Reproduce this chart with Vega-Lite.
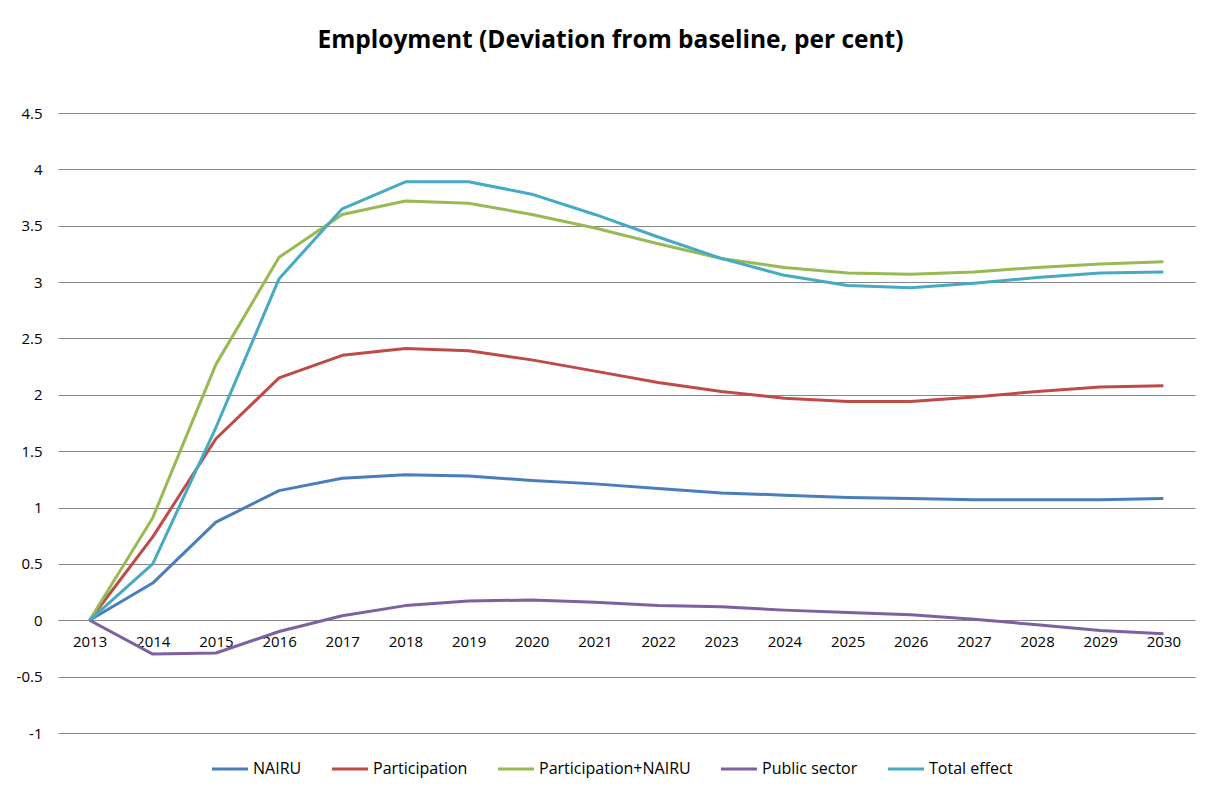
{
  "$schema": "https://vega.github.io/schema/vega-lite/v6.json",
  "autosize": {"type": "none"},
  "width": 1137,
  "height": 620,
  "padding": {"left": 58, "top": 113, "right": 14, "bottom": 60},
  "background": "white",
  "title": {
    "text": "Employment (Deviation from baseline, per cent)",
    "font": "Open Sans",
    "fontSize": 24.5,
    "fontWeight": "bold",
    "color": "#000000",
    "anchor": "middle",
    "dx": -16,
    "offset": 53
  },
  "config": {
    "view": {"stroke": null},
    "font": "Open Sans"
  },
  "data": {
    "values": [
      {"year": "2013", "series": "NAIRU", "value": 0},
      {"year": "2014", "series": "NAIRU", "value": 0.33},
      {"year": "2015", "series": "NAIRU", "value": 0.87},
      {"year": "2016", "series": "NAIRU", "value": 1.15},
      {"year": "2017", "series": "NAIRU", "value": 1.26},
      {"year": "2018", "series": "NAIRU", "value": 1.29},
      {"year": "2019", "series": "NAIRU", "value": 1.28},
      {"year": "2020", "series": "NAIRU", "value": 1.24},
      {"year": "2021", "series": "NAIRU", "value": 1.21},
      {"year": "2022", "series": "NAIRU", "value": 1.17},
      {"year": "2023", "series": "NAIRU", "value": 1.13},
      {"year": "2024", "series": "NAIRU", "value": 1.11},
      {"year": "2025", "series": "NAIRU", "value": 1.09},
      {"year": "2026", "series": "NAIRU", "value": 1.08},
      {"year": "2027", "series": "NAIRU", "value": 1.07},
      {"year": "2028", "series": "NAIRU", "value": 1.07},
      {"year": "2029", "series": "NAIRU", "value": 1.07},
      {"year": "2030", "series": "NAIRU", "value": 1.08},

      {"year": "2013", "series": "Participation", "value": 0},
      {"year": "2014", "series": "Participation", "value": 0.74},
      {"year": "2015", "series": "Participation", "value": 1.61},
      {"year": "2016", "series": "Participation", "value": 2.15},
      {"year": "2017", "series": "Participation", "value": 2.35},
      {"year": "2018", "series": "Participation", "value": 2.41},
      {"year": "2019", "series": "Participation", "value": 2.39},
      {"year": "2020", "series": "Participation", "value": 2.31},
      {"year": "2021", "series": "Participation", "value": 2.21},
      {"year": "2022", "series": "Participation", "value": 2.11},
      {"year": "2023", "series": "Participation", "value": 2.03},
      {"year": "2024", "series": "Participation", "value": 1.97},
      {"year": "2025", "series": "Participation", "value": 1.94},
      {"year": "2026", "series": "Participation", "value": 1.94},
      {"year": "2027", "series": "Participation", "value": 1.98},
      {"year": "2028", "series": "Participation", "value": 2.03},
      {"year": "2029", "series": "Participation", "value": 2.07},
      {"year": "2030", "series": "Participation", "value": 2.08},

      {"year": "2013", "series": "Participation+NAIRU", "value": 0},
      {"year": "2014", "series": "Participation+NAIRU", "value": 0.91},
      {"year": "2015", "series": "Participation+NAIRU", "value": 2.27},
      {"year": "2016", "series": "Participation+NAIRU", "value": 3.22},
      {"year": "2017", "series": "Participation+NAIRU", "value": 3.60},
      {"year": "2018", "series": "Participation+NAIRU", "value": 3.72},
      {"year": "2019", "series": "Participation+NAIRU", "value": 3.70},
      {"year": "2020", "series": "Participation+NAIRU", "value": 3.60},
      {"year": "2021", "series": "Participation+NAIRU", "value": 3.48},
      {"year": "2022", "series": "Participation+NAIRU", "value": 3.34},
      {"year": "2023", "series": "Participation+NAIRU", "value": 3.21},
      {"year": "2024", "series": "Participation+NAIRU", "value": 3.13},
      {"year": "2025", "series": "Participation+NAIRU", "value": 3.08},
      {"year": "2026", "series": "Participation+NAIRU", "value": 3.07},
      {"year": "2027", "series": "Participation+NAIRU", "value": 3.09},
      {"year": "2028", "series": "Participation+NAIRU", "value": 3.13},
      {"year": "2029", "series": "Participation+NAIRU", "value": 3.16},
      {"year": "2030", "series": "Participation+NAIRU", "value": 3.18},

      {"year": "2013", "series": "Public sector", "value": 0},
      {"year": "2014", "series": "Public sector", "value": -0.30},
      {"year": "2015", "series": "Public sector", "value": -0.29},
      {"year": "2016", "series": "Public sector", "value": -0.10},
      {"year": "2017", "series": "Public sector", "value": 0.04},
      {"year": "2018", "series": "Public sector", "value": 0.13},
      {"year": "2019", "series": "Public sector", "value": 0.17},
      {"year": "2020", "series": "Public sector", "value": 0.18},
      {"year": "2021", "series": "Public sector", "value": 0.16},
      {"year": "2022", "series": "Public sector", "value": 0.13},
      {"year": "2023", "series": "Public sector", "value": 0.12},
      {"year": "2024", "series": "Public sector", "value": 0.09},
      {"year": "2025", "series": "Public sector", "value": 0.07},
      {"year": "2026", "series": "Public sector", "value": 0.05},
      {"year": "2027", "series": "Public sector", "value": 0.01},
      {"year": "2028", "series": "Public sector", "value": -0.04},
      {"year": "2029", "series": "Public sector", "value": -0.09},
      {"year": "2030", "series": "Public sector", "value": -0.12},

      {"year": "2013", "series": "Total effect", "value": 0},
      {"year": "2014", "series": "Total effect", "value": 0.50},
      {"year": "2015", "series": "Total effect", "value": 1.71},
      {"year": "2016", "series": "Total effect", "value": 3.03},
      {"year": "2017", "series": "Total effect", "value": 3.65},
      {"year": "2018", "series": "Total effect", "value": 3.89},
      {"year": "2019", "series": "Total effect", "value": 3.89},
      {"year": "2020", "series": "Total effect", "value": 3.78},
      {"year": "2021", "series": "Total effect", "value": 3.60},
      {"year": "2022", "series": "Total effect", "value": 3.40},
      {"year": "2023", "series": "Total effect", "value": 3.21},
      {"year": "2024", "series": "Total effect", "value": 3.06},
      {"year": "2025", "series": "Total effect", "value": 2.97},
      {"year": "2026", "series": "Total effect", "value": 2.95},
      {"year": "2027", "series": "Total effect", "value": 2.99},
      {"year": "2028", "series": "Total effect", "value": 3.04},
      {"year": "2029", "series": "Total effect", "value": 3.08},
      {"year": "2030", "series": "Total effect", "value": 3.09}
    ]
  },
  "mark": {"type": "line", "strokeWidth": 3, "strokeJoin": "round"},
  "encoding": {
    "x": {
      "field": "year",
      "type": "ordinal",
      "scale": {"type": "point", "padding": 0.5},
      "axis": {
        "title": null,
        "labelAngle": 0,
        "offset": -113,
        "domain": true,
        "domainColor": "#868686",
        "domainWidth": 1,
        "ticks": false,
        "labelPadding": 14,
        "labelFontSize": 15,
        "labelColor": "#000000",
        "grid": false
      }
    },
    "y": {
      "field": "value",
      "type": "quantitative",
      "scale": {"domain": [-1, 4.5], "nice": false, "zero": false},
      "axis": {
        "title": null,
        "values": [-1, -0.5, 0, 0.5, 1, 1.5, 2, 2.5, 3, 3.5, 4, 4.5],
        "format": "",
        "labelExpr": "replace(datum.label, '\u2212', '-')",
        "domain": false,
        "ticks": false,
        "grid": true,
        "gridColor": "#868686",
        "gridWidth": 1,
        "labelPadding": 16,
        "labelFontSize": 15,
        "labelColor": "#000000"
      }
    },
    "color": {
      "field": "series",
      "type": "nominal",
      "scale": {
        "domain": ["NAIRU", "Participation", "Participation+NAIRU", "Public sector", "Total effect"],
        "range": ["#4a7ebb", "#be4b48", "#98b954", "#7d60a0", "#46aac5"]
      },
      "legend": {
        "title": null,
        "orient": "none",
        "direction": "horizontal",
        "legendX": 152,
        "legendY": 636,
        "symbolType": "stroke",
        "symbolSize": 1300,
        "symbolStrokeWidth": 3,
        "labelFontSize": 16,
        "labelColor": "#000000",
        "labelOffset": 3,
        "columnPadding": 23
      }
    }
  }
}
